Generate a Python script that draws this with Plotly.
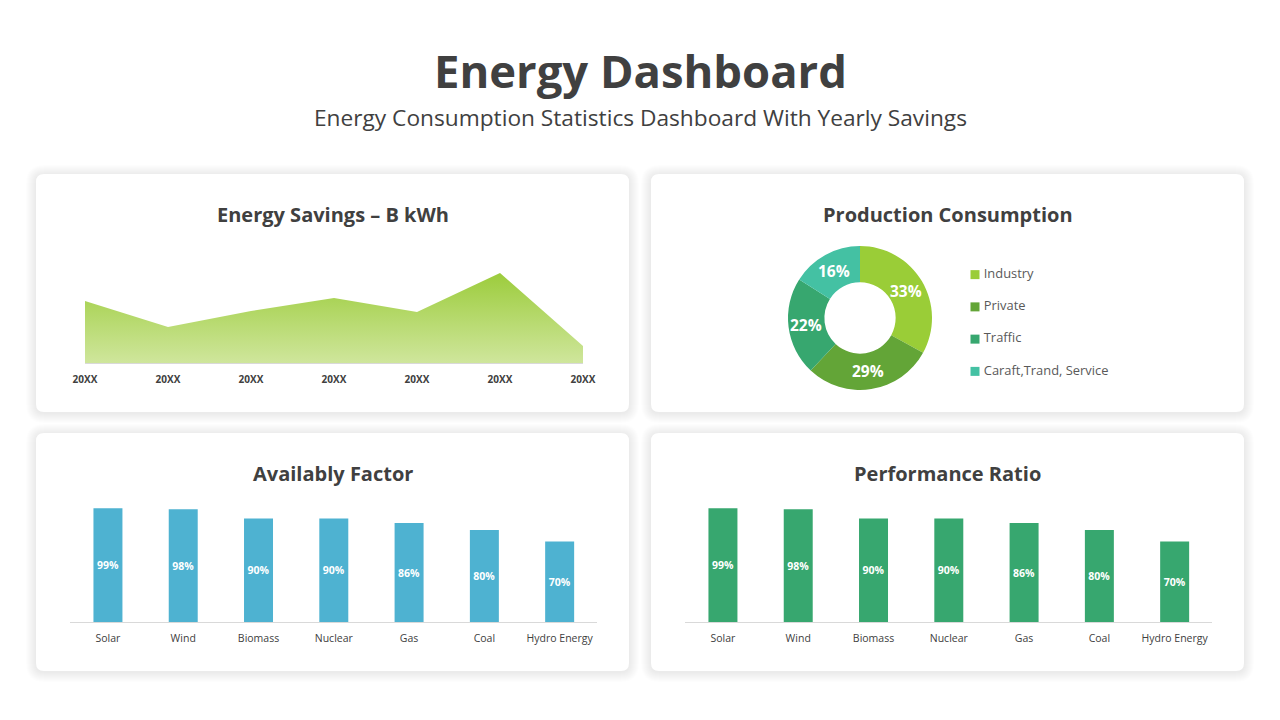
import math
import plotly.graph_objects as go

W, H = 1280, 720
FONT = "Open Sans"
DARK = "#404040"

# ---- data ----
area_labels = ["20XX"] * 7
area_values = [62, 36, 52, 65, 51, 90, 17]

pie_labels = ["Industry", "Private", "Traffic", "Caraft,Trand, Service"]
pie_values = [33, 29, 22, 16]
pie_colors = ["#9ACD37", "#63A537", "#37A76F", "#44C1A3"]

bar_categories = ["Solar", "Wind", "Biomass", "Nuclear", "Gas", "Coal", "Hydro Energy"]
availability = [99, 98, 90, 90, 86, 80, 70]
performance = [99, 98, 90, 90, 86, 80, 70]

cards = [(36, 174, 629, 412), (651, 174, 1244, 412), (36, 433, 629, 671), (651, 433, 1244, 671)]
card_titles = ["Energy Savings \u2013 B kWh", "Production Consumption", "Availably Factor", "Performance Ratio"]


def fx(px):
    return px / W


def fy(py):
    return 1 - py / H


def dom_x(a, b):
    return [fx(a), fx(b)]


def dom_y(top, bottom):
    return [fy(bottom), fy(top)]


def rounded(x0, y0, x1, y1, r):
    a, b, c, d = fx(x0), fy(y0), fx(x1), fy(y1)
    rx, ry = r / W, r / H
    return (f"M {a+rx} {b} L {c-rx} {b} Q {c} {b} {c} {b-ry} L {c} {d+ry} Q {c} {d} {c-rx} {d} "
            f"L {a+rx} {d} Q {a} {d} {a} {d+ry} L {a} {b-ry} Q {a} {b} {a+rx} {b} Z")


shapes = []
for (x0, y0, x1, y1) in cards:
    for grow in range(10, 0, -1):
        shapes.append(dict(type="path", xref="paper", yref="paper", layer="below",
                           path=rounded(x0 - grow, y0 - grow + 1, x1 + grow, y1 + grow + 1, 8 + grow),
                           fillcolor="rgba(0,0,0,0.0065)", line_width=0))
    shapes.append(dict(type="path", xref="paper", yref="paper", layer="below",
                       path=rounded(x0, y0, x1, y1, 8), fillcolor="#FFFFFF", line_width=0))

annotations = [
    dict(text="<b>Energy Dashboard</b>", x=fx(640), y=fy(70.5), font=dict(size=45.4, color=DARK, family=FONT)),
    dict(text="Energy Consumption Statistics Dashboard With Yearly Savings", x=fx(640.5), y=fy(118),
         font=dict(size=22.7, color=DARK, family=FONT)),
]
for (x0, y0, x1, y1), t in zip(cards, card_titles):
    annotations.append(dict(text=f"<b>{t}</b>", x=fx((x0 + x1) / 2), y=fy(y0 + 40),
                            font=dict(size=20, color=DARK, family=FONT)))

# donut labels sit at the middle of each ring sector, derived from the values
PIE_CX, PIE_CY, PIE_R = 860, 318, 54
cum = 0
for v in pie_values:
    ang = 2 * math.pi * (cum + v / 2) / sum(pie_values)
    cum += v
    annotations.append(dict(text=f"<b>{v}%</b>", x=fx(PIE_CX + PIE_R * math.sin(ang)),
                            y=fy(PIE_CY - PIE_R * math.cos(ang)),
                            font=dict(size=15.5, color="#FFFFFF", family=FONT)))
for a in annotations:
    a.update(xref="paper", yref="paper", xanchor="center", yanchor="middle", showarrow=False)

fig = go.Figure()

# area chart
fig.add_trace(go.Scatter(
    x=list(range(len(area_values))), y=area_values, mode="lines", line=dict(width=0, color="#9CCC3C"),
    fill="tozeroy",
    fillgradient=dict(type="vertical", colorscale=[[0, "#CFE69C"], [1, "#9CCC3C"]]),
    xaxis="x", yaxis="y", hoverinfo="skip", showlegend=False))

# donut
fig.add_trace(go.Pie(
    labels=pie_labels, values=pie_values, sort=False, direction="clockwise", rotation=0, hole=0.495,
    marker=dict(colors=pie_colors, line=dict(width=0)), textinfo="none",
    domain=dict(x=dom_x(788, 932), y=dom_y(246, 390)), showlegend=False, hoverinfo="skip"))

# legend of the donut
fig.add_trace(go.Scatter(
    x=[0] * 4, y=[3, 2, 1, 0], mode="markers+text", text=["\u2009" + s for s in pie_labels],
    textposition="middle right",
    marker=dict(symbol="square", size=9, color=pie_colors, line_width=0),
    textfont=dict(size=12.9, color="#595959", family=FONT),
    xaxis="x4", yaxis="y4", hoverinfo="skip", showlegend=False, cliponaxis=False))

# bars
for vals, color, xa, ya in [(availability, "#4EB2D1", "x2", "y2"), (performance, "#37A76F", "x3", "y3")]:
    fig.add_trace(go.Bar(
        x=bar_categories, y=vals, marker=dict(color=color, line_width=0), width=0.385,
        text=[f"{v}%" for v in vals], textposition="inside", insidetextanchor="middle", textangle=0,
        textfont=dict(size=10.5, color="#FFFFFF", family=FONT, weight="bold"),
        xaxis=xa, yaxis=ya, hoverinfo="skip", showlegend=False))

AX_LINE = "#D9D9D9"
tick_dark = dict(size=10.5, color=DARK, family=FONT)
layout = dict(
    width=W, height=H, margin=dict(l=0, r=0, t=0, b=0, autoexpand=False),
    paper_bgcolor="#FFFFFF", plot_bgcolor="rgba(0,0,0,0)",
    shapes=shapes, annotations=annotations, showlegend=False,
    font=dict(family=FONT),
    xaxis=dict(domain=dom_x(85, 583), range=[0, 6], tickvals=list(range(7)), ticktext=area_labels,
               showgrid=False, zeroline=False, showline=True, linecolor=AX_LINE, linewidth=1,
               tickfont=dict(size=10, color=DARK, family=FONT, weight="bold"), ticks="", ticklabelstandoff=7),
    yaxis=dict(domain=dom_y(263, 363), range=[0, 100], visible=False),
    xaxis2=dict(domain=dom_x(70.3, 597.3), anchor="y2", showgrid=False, zeroline=False, showline=True,
                linecolor=AX_LINE, linewidth=1, tickfont=tick_dark, ticks="", ticklabelstandoff=6),
    yaxis2=dict(domain=dom_y(507, 622), range=[0, 100], visible=False, anchor="x2"),
    xaxis3=dict(domain=dom_x(685.3, 1212.3), anchor="y3", showgrid=False, zeroline=False, showline=True,
                linecolor=AX_LINE, linewidth=1, tickfont=tick_dark, ticks="", ticklabelstandoff=6),
    yaxis3=dict(domain=dom_y(507, 622), range=[0, 100], visible=False, anchor="x3"),
    xaxis4=dict(domain=dom_x(965, 985), range=[-1, 1], visible=False, anchor="y4"),
    yaxis4=dict(domain=dom_y(258.5, 387.5), range=[-0.5, 3.5], visible=False, anchor="x4"),
)
fig.update_layout(**layout)
fig.write_html("out.html", config=dict(displayModeBar=False),
               post_script="document.body.style.margin='0';")
